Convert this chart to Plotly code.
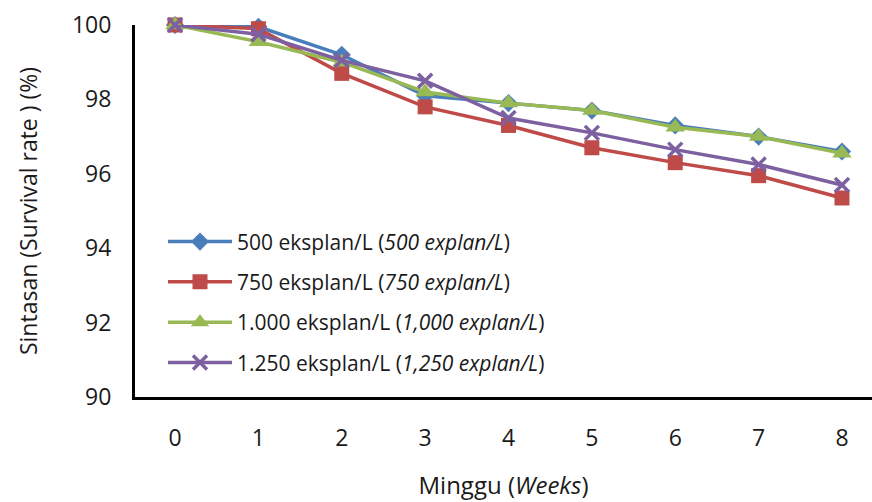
import plotly.graph_objects as go

weeks = [0, 1, 2, 3, 4, 5, 6, 7, 8]
s500 = [100, 99.95, 99.2, 98.1, 97.9, 97.7, 97.3, 97.0, 96.6]
s750 = [100, 99.9, 98.7, 97.8, 97.3, 96.7, 96.3, 95.95, 95.35]
s1000 = [100, 99.55, 99.0, 98.2, 97.9, 97.7, 97.25, 97.0, 96.55]
s1250 = [100, 99.75, 99.05, 98.5, 97.5, 97.1, 96.65, 96.25, 95.7]

names = [
    "500 eksplan/L (<i>500 explan/L</i>)",
    "750 eksplan/L (<i>750 explan/L</i>)",
    "1.000 eksplan/L (<i>1,000 explan/L</i>)",
    "1.250 eksplan/L (<i>1,250 explan/L</i>)",
]
colors = ["#4A7EBB", "#BE4B48", "#98B954", "#7D60A0"]
symbols = ["diamond", "square", "triangle-up", "x-thin"]
sizes = [14, 15, 17, 14]
series = [s500, s750, s1000, s1250]

fig = go.Figure()
for i, (ys, nm, c, sym, sz) in enumerate(zip(series, names, colors, symbols, sizes)):
    marker = dict(symbol=sym, size=sz, color=c)
    if sym == "x-thin":
        marker["line"] = dict(color=c, width=3.5)
    fig.add_trace(go.Scatter(
        x=weeks, y=ys, name=nm, mode="lines+markers",
        line=dict(color=c, width=3.5), marker=marker,
        cliponaxis=False, legendgroup=f"g{i}",
    ))

font_family = "Open Sans, Noto Sans, sans-serif"
fig.update_layout(
    width=872, height=502,
    margin=dict(l=135, r=0, t=25, b=105),
    paper_bgcolor="white", plot_bgcolor="white",
    font=dict(family=font_family, color="#1a1a1a", size=21),
    showlegend=True,
    legend=dict(
        x=0.038, y=0.472, xanchor="left", yanchor="top",
        font=dict(size=21, color="#1a1a1a"),
        itemwidth=64,
        tracegroupgap=10, bgcolor="rgba(0,0,0,0)",
    ),
    xaxis=dict(
        range=[-0.48, 8.36], tickmode="array", tickvals=weeks,
        ticktext=[str(w) for w in weeks],
        showline=True, linecolor="black", linewidth=3,
        showgrid=False, zeroline=False, ticks="",
        ticklabelstandoff=18, tickfont=dict(size=23),
        title=dict(text="Minggu (<i>Weeks</i>)", font=dict(size=24), standoff=26),
    ),
    yaxis=dict(
        range=[90, 100], tickmode="array", tickvals=[90, 92, 94, 96, 98, 100],
        showline=True, linecolor="black", linewidth=3,
        showgrid=False, zeroline=False, ticks="",
        ticklabelstandoff=16, tickfont=dict(size=23),
        title=dict(text="Sintasan (Survival rate ) (%)", font=dict(size=23), standoff=28),
    ),
)

fig.write_html("out.html")
